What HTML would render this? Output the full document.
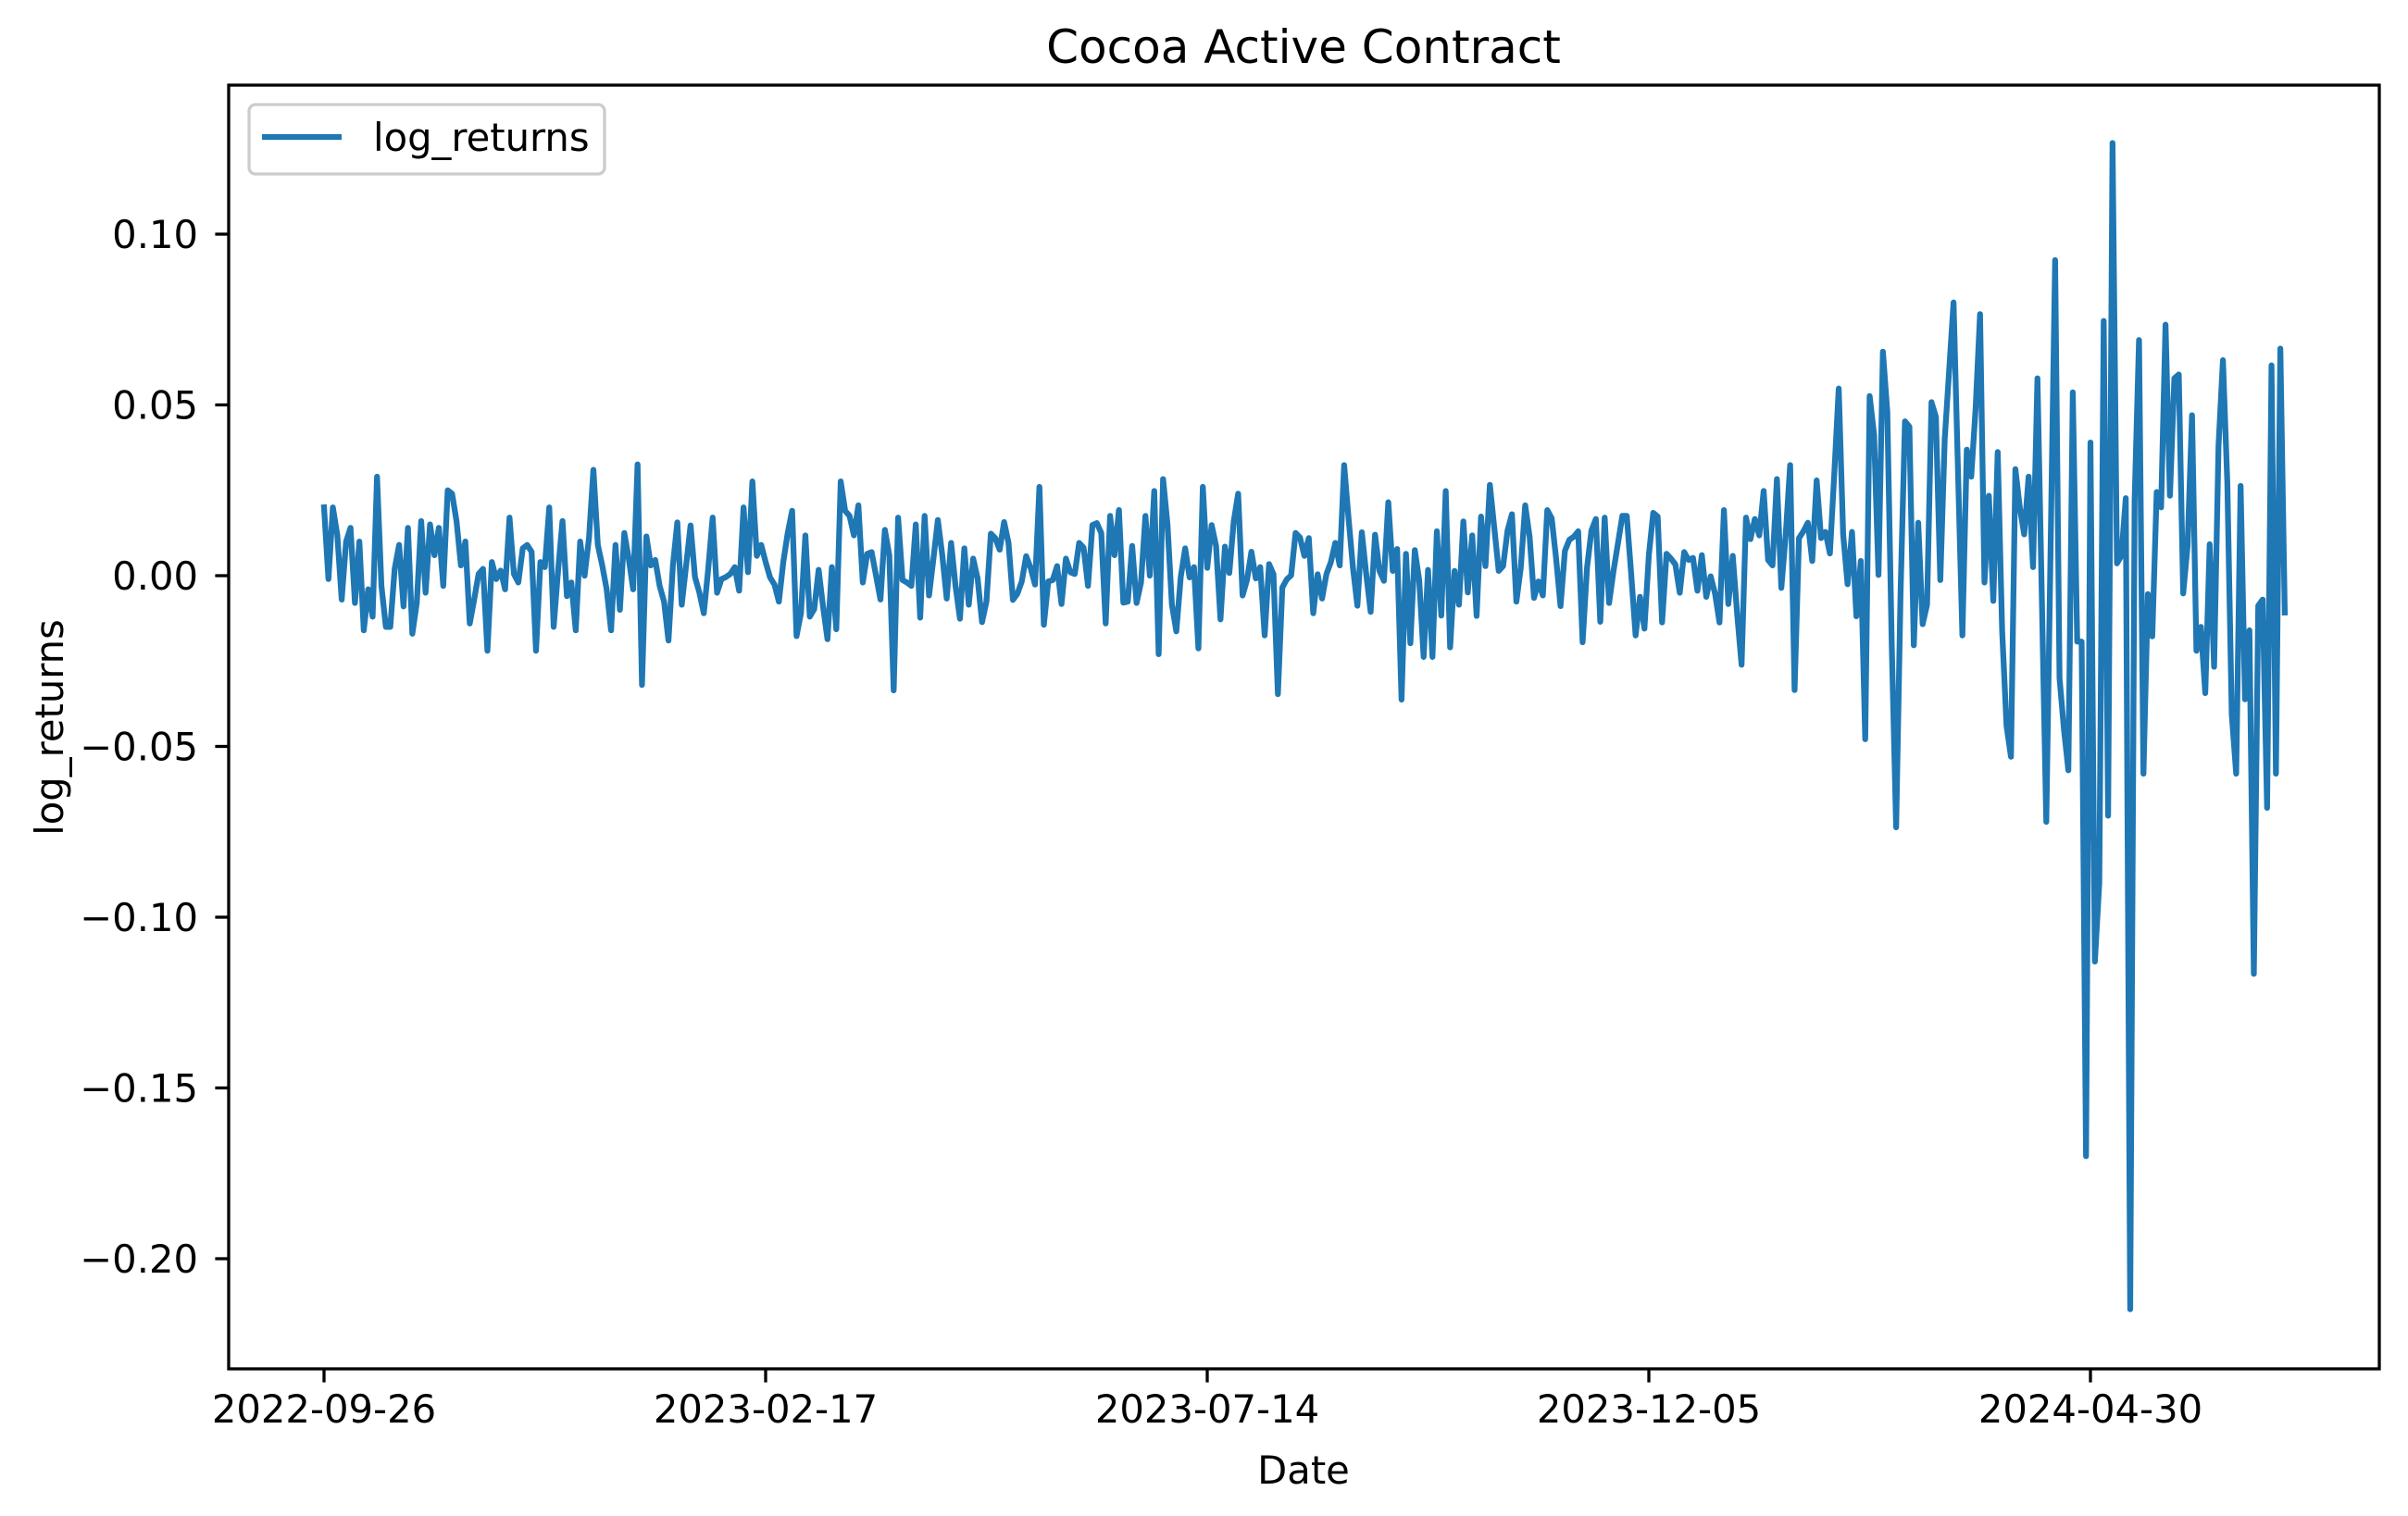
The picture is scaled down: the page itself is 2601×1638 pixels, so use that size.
<!DOCTYPE html>
<html>
<head>
<meta charset="utf-8">
<style>
html,body{margin:0;padding:0;background:#fff;}
svg{display:block;}
text{font-family:"DejaVu Sans","Liberation Sans",sans-serif;fill:#000;}
</style>
</head>
<body>
<svg id="chart" width="2601" height="1638" viewBox="0 0 2601 1638" xmlns="http://www.w3.org/2000/svg">
  <rect x="0" y="0" width="2601" height="1638" fill="#fff"/>
  <text x="1408" y="68" font-size="50" text-anchor="middle">Cocoa Active Contract</text>
  <g id="plot"></g>
  <g id="axes"></g>
  <text x="1408" y="1603" font-size="41.7" text-anchor="middle">Date</text>
  <text x="0" y="0" font-size="41.7" text-anchor="middle" transform="translate(68,786) rotate(-90)">log_returns</text>
  <g>
    <rect x="269" y="113" width="384" height="75" rx="7" ry="7" fill="#fff" fill-opacity="0.8" stroke="#cccccc" stroke-width="3.3"/>
    <line x1="283" y1="148" x2="369" y2="148" stroke="#1f77b4" stroke-width="6.25"/>
    <text x="403" y="163" font-size="41.7">log_returns</text>
  </g>
</svg>
<script>
const values = [
0.020,-0.001,0.020,0.012,-0.007,0.010,0.014,-0.008,0.010,-0.016,-0.004,-0.012,0.029,-0.003,-0.015,-0.015,0.002,0.009,-0.009,0.014,-0.017,-0.008,0.016,-0.005,0.015,0.006,0.014,-0.003,0.025,0.024,0.016,0.003,0.010,-0.014,-0.007,0.0005,0.002,-0.022,0.004,-0.001,0.0015,-0.004,0.017,0.0005,-0.002,0.008,0.009,0.007,-0.022,0.004,0.0025,0.020,-0.015,0.0015,0.016,-0.006,-0.002,-0.016,0.010,0.000,0.011,0.031,0.009,0.003,-0.004,
-0.016,0.009,-0.010,0.0125,0.005,-0.004,0.0326,-0.032,0.0115,0.003,0.0046,-0.003,-0.0076,-0.019,0.003,0.0156,-0.0085,0.003,0.0147,-0.0004,-0.005,-0.011,0.002,0.017,-0.005,-0.001,-0.0004,0.0005,0.0025,-0.0044,0.020,0.001,0.0276,0.0058,0.009,0.004,-0.0005,-0.0026,-0.0076,0.004,0.0125,0.019,-0.0177,-0.011,0.0118,-0.012,-0.0098,0.0017,-0.009,-0.0186,0.0025,-0.0157,0.0276,0.019,0.0175,0.0118,0.0206,-0.002,0.0064,0.0069,0.000,-0.007,0.0134,0.006,-0.0336,0.017,
-0.0013,-0.002,-0.003,0.015,-0.0123,0.0175,-0.0058,0.005,0.0163,0.006,-0.0067,0.0096,-0.003,-0.0126,0.008,-0.0085,0.005,-0.0008,-0.0136,-0.0076,0.0123,0.011,0.0076,0.0157,0.0096,-0.0071,-0.0053,-0.0017,0.0057,0.0023,-0.0026,0.026,-0.0144,-0.0017,-0.0013,0.0028,-0.0083,0.005,0.001,0.0005,0.0096,0.0082,-0.003,0.0148,0.0154,0.0125,-0.014,0.0175,0.006,0.0192,-0.0079,-0.0076,0.0087,-0.008,-0.002,0.0175,0.000,0.0248,-0.023,0.0283,0.015,-0.0085,-0.0163,-0.0004,0.008,-0.0005,
0.0025,-0.0213,0.026,0.0023,0.0148,0.0087,-0.0128,0.0085,0.0008,0.0159,0.024,-0.0058,-0.0013,0.007,-0.0008,0.0025,-0.0175,0.0034,0.0004,-0.0347,-0.0035,-0.0011,0.0001,0.0125,0.0112,0.0058,0.011,-0.011,0.0004,-0.0067,0.0005,0.004,0.0096,0.003,0.0324,0.0168,0.0023,-0.0088,0.0127,0.0005,-0.0106,0.012,0.0014,-0.0015,0.0215,0.0014,0.0078,-0.0363,0.0064,-0.0198,0.0075,-0.0013,-0.0238,0.0017,-0.0238,0.013,-0.0117,0.0248,-0.021,0.0014,-0.0085,0.0159,-0.0049,0.0118,-0.0118,0.0173,
0.0028,0.0266,0.014,0.0014,0.0028,0.0132,0.018,-0.0076,0.0023,0.0206,0.0114,-0.0065,-0.0017,-0.0058,0.0192,0.0168,0.005,-0.0089,0.0073,0.0105,0.0114,0.013,-0.0195,0.0023,0.0132,0.0166,-0.0135,0.017,-0.008,0.0014,0.0094,0.0175,0.0175,0.0005,-0.0175,-0.0062,-0.0155,0.006,0.0184,0.0173,-0.0137,0.0064,0.005,0.0033,-0.005,0.0069,0.0046,0.0052,-0.0044,0.006,-0.0062,-0.0002,-0.0053,-0.0137,0.0192,-0.0083,0.0058,-0.0112,-0.0261,0.017,0.0107,0.0166,0.0118,0.0248,0.0046,
0.003,0.0283,-0.0036,0.012,0.0324,-0.0335,0.011,0.013,0.0155,0.0043,0.0279,0.011,0.0128,0.0065,0.03,0.0548,0.0121,-0.0025,0.0128,-0.0119,0.0043,-0.0479,0.0526,0.0413,0.0002,0.0656,0.048,-0.02,-0.0737,-0.005,0.0452,0.0436,
-0.0204,0.0155,-0.0142,-0.0085,0.0508,0.0465,-0.0013,0.04,0.06,0.08,0.031,-0.0175,0.0369,0.029,0.049,0.0766,-0.002,0.0234,-0.0074,0.0362,-0.016,-0.044,-0.053,0.0312,0.02,0.0121,0.029,0.0025,0.0578,
-0.007,-0.0721,0.01,0.0924,-0.03,-0.045,-0.057,0.0537,-0.0193,-0.0193,-0.17,0.039,-0.113,-0.09,0.0746,-0.0703,0.1267,0.0036,0.0058,0.0227,-0.2148,0.022,0.069,-0.058,-0.0054,-0.0178,0.0245,0.02,0.0735,0.0234,0.0578,
0.0589,-0.0052,0.0088,0.047,-0.022,-0.015,-0.0344,0.0092,-0.0267,0.038,0.0631,0.027,-0.0407,-0.058,0.0263,-0.0362,-0.016,-0.1166,-0.0088,-0.007,-0.068,0.0616,-0.058,0.0665,-0.0108
];
const xTickIndices = [0, 100, 200, 300, 400];
const xTickLabels = ["2022-09-26", "2023-02-17", "2023-07-14", "2023-12-05", "2024-04-30"];
const yTickValues = [0.10, 0.05, 0.00, -0.05, -0.10, -0.15, -0.20];
const yTickLabels = ["0.10", "0.05", "0.00", "\u22120.05", "\u22120.10", "\u22120.15", "\u22120.20"];

const NS = "http://www.w3.org/2000/svg";
const AX = {left: 247, right: 2570, top: 92, bottom: 1479};
const X0 = 350, XSTEP = 4.77;
const YZERO = 622, YUNIT = 3690;
function xScale(i) { return X0 + i * XSTEP; }
function yScale(v) { return YZERO - v * YUNIT; }

const plot = document.getElementById('plot');
const axes = document.getElementById('axes');

const clip = document.createElementNS(NS, 'clipPath');
clip.setAttribute('id', 'clipAx');
const cr = document.createElementNS(NS, 'rect');
cr.setAttribute('x', AX.left); cr.setAttribute('y', AX.top);
cr.setAttribute('width', AX.right - AX.left); cr.setAttribute('height', AX.bottom - AX.top);
clip.appendChild(cr);
plot.appendChild(clip);

let d = '';
values.forEach((v, i) => { d += (i ? 'L' : 'M') + xScale(i).toFixed(2) + ',' + yScale(v).toFixed(2); });
const path = document.createElementNS(NS, 'path');
path.setAttribute('d', d);
path.setAttribute('fill', 'none');
path.setAttribute('stroke', '#1f77b4');
path.setAttribute('stroke-width', '6.25');
path.setAttribute('stroke-linejoin', 'round');
path.setAttribute('stroke-linecap', 'square');
path.setAttribute('clip-path', 'url(#clipAx)');


plot.appendChild(path);

const frame = document.createElementNS(NS, 'rect');
frame.setAttribute('x', AX.left); frame.setAttribute('y', AX.top);
frame.setAttribute('width', AX.right - AX.left); frame.setAttribute('height', AX.bottom - AX.top);
frame.setAttribute('fill', 'none'); frame.setAttribute('stroke', '#000'); frame.setAttribute('stroke-width', '3.3');


axes.appendChild(frame);

yTickValues.forEach((v, k) => {
  const y = yScale(v);
  const t = document.createElementNS(NS, 'line');
  t.setAttribute('x1', AX.left - 14.6); t.setAttribute('x2', AX.left);
  t.setAttribute('y1', y); t.setAttribute('y2', y);
  t.setAttribute('stroke', '#000'); t.setAttribute('stroke-width', '3.3');
  
  
  axes.appendChild(t);
  const lb = document.createElementNS(NS, 'text');
  lb.setAttribute('x', 214); lb.setAttribute('y', y + 15);
  lb.setAttribute('font-size', '41.7'); lb.setAttribute('text-anchor', 'end');
  lb.textContent = yTickLabels[k];
  
  
  axes.appendChild(lb);
});

xTickIndices.forEach((ix, k) => {
  const x = xScale(ix);
  const t = document.createElementNS(NS, 'line');
  t.setAttribute('x1', x); t.setAttribute('x2', x);
  t.setAttribute('y1', AX.bottom); t.setAttribute('y2', AX.bottom + 14.6);
  t.setAttribute('stroke', '#000'); t.setAttribute('stroke-width', '3.3');
  
  
  axes.appendChild(t);
  const lb = document.createElementNS(NS, 'text');
  lb.setAttribute('x', x); lb.setAttribute('y', 1537);
  lb.setAttribute('font-size', '41.7'); lb.setAttribute('text-anchor', 'middle');
  lb.textContent = xTickLabels[k];
  
  
  axes.appendChild(lb);
});
</script>
</body>
</html>
